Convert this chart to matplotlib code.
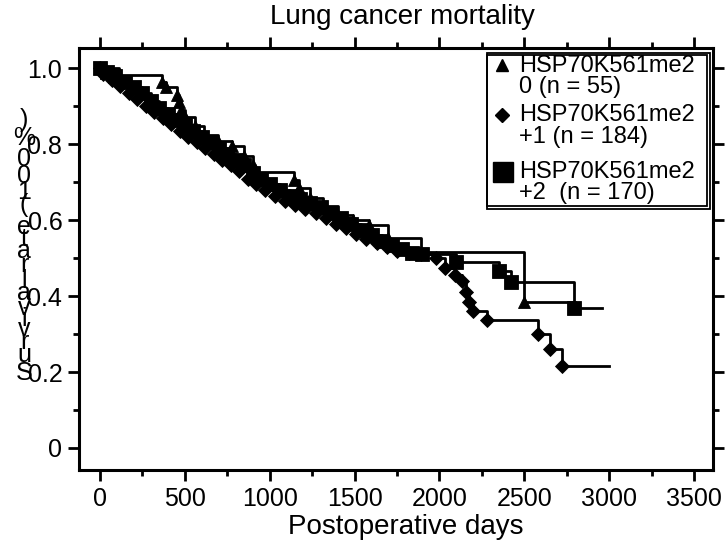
import numpy as np
import matplotlib
matplotlib.use('Agg')
import matplotlib.pyplot as plt
from matplotlib.patches import Rectangle
from matplotlib.textpath import TextToPath
from matplotlib.font_manager import FontProperties

plt.rcParams['font.family'] = ['Liberation Sans', 'DejaVu Sans']

# HSP70K561me2 0 (n = 55), triangles
t0 = [0, 110, 365, 390, 455, 465, 475, 500, 560, 610, 695, 780, 850, 900, 915,
      1140, 1170, 1240, 1315, 1405, 1490, 1585, 1695, 1890, 2500]
s0 = [1.0, 0.982, 0.964, 0.951, 0.931, 0.911, 0.891, 0.871, 0.848, 0.826, 0.808,
      0.795, 0.77, 0.745, 0.728, 0.707, 0.686, 0.66, 0.638, 0.615, 0.60, 0.588,
      0.553, 0.516, 0.384]
end0 = 2800

# HSP70K561me2 +1 (n = 184), diamonds
t1 = [0, 20, 70, 120, 170, 220, 270, 320, 370, 420, 470, 520, 570, 620, 670, 720,
      770, 820, 870, 920, 970, 1030, 1090, 1150, 1210, 1270, 1330, 1390, 1450, 1510,
      1570, 1630, 1690, 1750, 1820, 1890, 1980, 2030, 2090, 2130, 2155, 2175, 2200,
      2280, 2580, 2650, 2720]
s1 = [1.0, 0.985, 0.97, 0.955, 0.935, 0.92, 0.90, 0.885, 0.87, 0.855, 0.835, 0.82,
      0.805, 0.79, 0.775, 0.76, 0.745, 0.73, 0.71, 0.695, 0.68, 0.665, 0.65, 0.64,
      0.63, 0.62, 0.605, 0.59, 0.58, 0.565, 0.55, 0.54, 0.53, 0.52, 0.515, 0.51,
      0.50, 0.475, 0.455, 0.44, 0.41, 0.385, 0.36, 0.338, 0.30, 0.26, 0.215]
end1 = 3000

# HSP70K561me2 +2 (n = 170), squares
t2 = [0, 40, 90, 150, 200, 250, 300, 350, 400, 450, 500, 550, 600, 650, 700, 750,
      800, 850, 900, 950, 1000, 1060, 1120, 1180, 1240, 1300, 1360, 1420, 1480, 1540,
      1600, 1660, 1720, 1780, 1840, 1900, 2100, 2350, 2420, 2790]
s2 = [1.0, 0.99, 0.98, 0.965, 0.95, 0.935, 0.915, 0.895, 0.88, 0.865, 0.85, 0.835,
      0.82, 0.805, 0.79, 0.775, 0.76, 0.745, 0.725, 0.71, 0.695, 0.68, 0.665, 0.655,
      0.645, 0.635, 0.62, 0.605, 0.59, 0.575, 0.56, 0.545, 0.535, 0.525, 0.515, 0.51,
      0.49, 0.466, 0.437, 0.368]
end2 = 2960

legend_labels = ['HSP70K561me2\n0 (n = 55)',
                 'HSP70K561me2\n+1 (n = 184)',
                 'HSP70K561me2\n+2  (n = 170)']
xticks = [0, 500, 1000, 1500, 2000, 2500, 3000, 3500]
yticks = [0, 0.2, 0.4, 0.6, 0.8, 1.0]
yticklabels = ['0', '0.2', '0.4', '0.6', '0.8', '1.0']

W, H = 727, 548
L, R, T, B = 79, 713, 48, 470

fig = plt.figure(figsize=(W / 100, H / 100), dpi=100)
ax = fig.add_axes([L / W, 1 - B / H, (R - L) / W, (B - T) / H])


def km(t, s, end, marker, ms):
    ax.step(list(t) + [end], list(s) + [s[-1]], where='post', color='black', lw=2, zorder=2)
    ax.plot(t, s, linestyle='none', marker=marker, ms=ms, color='black',
            mec='black', mew=0.6, zorder=3)


km(t2, s2, end2, 's', 10)
km(t1, s1, end1, 'D', 7.5)
km(t0, s0, end0, '^', 8.5)

ax.set_xlim(-124, 3612)
ax.set_ylim(-0.058, 1.054)
ax.set_xticks(xticks)
ax.set_xticks(np.arange(250, 3500, 500), minor=True)
ax.set_yticks(yticks)
ax.set_yticklabels(yticklabels)
ax.set_yticks([0.1, 0.3, 0.5, 0.7, 0.9], minor=True)
ax.tick_params(which='both', direction='out', top=True, right=True, width=2,
               labelsize=18, pad=4)
ax.tick_params(which='major', length=8)
ax.tick_params(which='minor', length=4)
for sp in ax.spines.values():
    sp.set_linewidth(2.2)


# legend drawn by hand so markers sit on the first line of each label
def axx(px):
    return (px - L) / (R - L)


def axy(py):
    return (B - py) / (B - T)


for x0, y0, x1, y1 in [(486.5, 52.7, 710, 209), (486.5, 55, 706.7, 205.7)]:
    ax.add_patch(Rectangle((axx(x0), axy(y1)), axx(x1) - axx(x0), axy(y0) - axy(y1),
                           transform=ax.transAxes, fill=(x1 == 710), facecolor='white',
                           edgecolor='black', lw=1.3, zorder=5, clip_on=False))

line_y = [(66, 87), (115, 137), (172, 193)]
handles = [('^', 9, 502, 65), ('D', 7, 502, 115), ('s', 14, 503, 172)]
for lab, (ya, yb), (mk, ms, mx, my) in zip(legend_labels, line_y, handles):
    first, second = lab.split('\n')
    ax.text(axx(519), axy(ya), first, transform=ax.transAxes, fontsize=17,
            ha='left', va='center', zorder=6)
    ax.text(axx(519), axy(yb), second, transform=ax.transAxes, fontsize=17,
            ha='left', va='center', zorder=6)
    ax.plot([axx(mx)], [axy(my)], marker=mk, ms=ms, color='black',
            transform=ax.transAxes, zorder=6, clip_on=False)

fig.text(402 / W, 1 - 17 / H, 'Lung cancer mortality', fontsize=20, ha='center', va='center')
fig.text(406 / W, 1 - 527 / H, 'Postoperative days', fontsize=20, ha='center', va='center')

# y label: upright characters stacked bottom to top
ylabel = 'Survival rate (100%)'
prop = FontProperties(family='Liberation Sans', size=18)
t2p = TextToPath()
base = t2p.get_text_width_height_descent('xx', prop, ismath=False)[0]
adv = [t2p.get_text_width_height_descent('x' + c + 'x', prop, ismath=False)[0] - base
       for c in ylabel]
centers = np.cumsum(adv) - np.array(adv) / 2
ys = 373 - (centers - centers[0]) * (373 - 120) / (centers[-1] - centers[0])
for c, yp in zip(ylabel, ys):
    fig.text(24 / W, 1 - yp / H, c, fontsize=18, ha='center', va='center')

fig.savefig('out.png', dpi=100)
